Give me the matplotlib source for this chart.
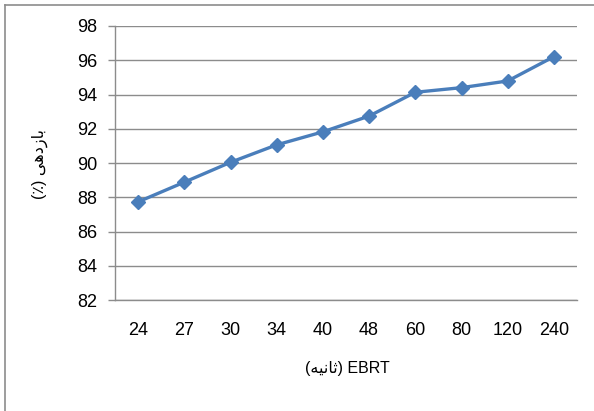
import matplotlib
matplotlib.use("Agg")
import matplotlib.pyplot as plt
from matplotlib.lines import Line2D

categories = ["24", "27", "30", "34", "40", "48", "60", "80", "120", "240"]
efficiency = [87.73, 88.88, 90.04, 91.06, 91.82, 92.74, 94.13, 94.40, 94.79, 96.21]
yticks = [82, 84, 86, 88, 90, 92, 94, 96, 98]

# Persian labels, pre-shaped (presentation forms) in visual order
xlabel_fa = "(" + "\uFEEA\uFBFF\uFEE7\uFE8E\uFE9B" + ")"
xlabel = xlabel_fa + " EBRT"
ylabel = "(\u066A) " + "\uFBFD\uFEEB\uFEA9\uFEAF\uFE8E\uFE91"

plt.rcParams['font.family'] = ['Liberation Sans', 'DejaVu Sans']

fig = plt.figure(figsize=(5.94, 4.11), dpi=100)
ax = fig.add_axes([115/594, 1 - 300/411, (577-115)/594, (300-26)/411])

x = list(range(len(categories)))
ax.plot(x, efficiency, color="#4A7EBB", linewidth=2.4, marker="D",
        markersize=7.5, markerfacecolor="#4A7EBB", markeredgecolor="#4A7EBB",
        zorder=3)

ax.set_xlim(-0.5, len(categories) - 0.5)
ax.set_ylim(82, 98)
ax.set_yticks(yticks)
ax.set_yticklabels([str(v) for v in yticks])
ax.set_xticks(x)
ax.set_xticklabels(categories)

ax.yaxis.grid(True, color="#8C8C8C", linewidth=1.0)
ax.set_axisbelow(True)
for s in ["top", "right"]:
    ax.spines[s].set_visible(False)
for s in ["left", "bottom"]:
    ax.spines[s].set_color("#8C8C8C")
    ax.spines[s].set_linewidth(1.0)

ax.tick_params(axis="y", direction="out", length=5, width=1.0, color="#8C8C8C",
               labelsize=13, pad=8)
ax.tick_params(axis="x", length=0, labelsize=13, pad=16)

fig.text(347/594, 1 - 368/411, xlabel, ha="center", va="center", fontsize=11.5)
fig.text(40/594, 1 - 164/411, ylabel, ha="center", va="center", fontsize=11.5,
         rotation=90)

fig.add_artist(Line2D([4.5/594, 4.5/594], [0, 1 - 5/411], transform=fig.transFigure,
                      color="#8C8C8C", linewidth=1.2))
fig.add_artist(Line2D([4.5/594, 1], [1 - 5/411, 1 - 5/411], transform=fig.transFigure,
                      color="#8C8C8C", linewidth=1.2))

fig.savefig("out.png", dpi=100)
